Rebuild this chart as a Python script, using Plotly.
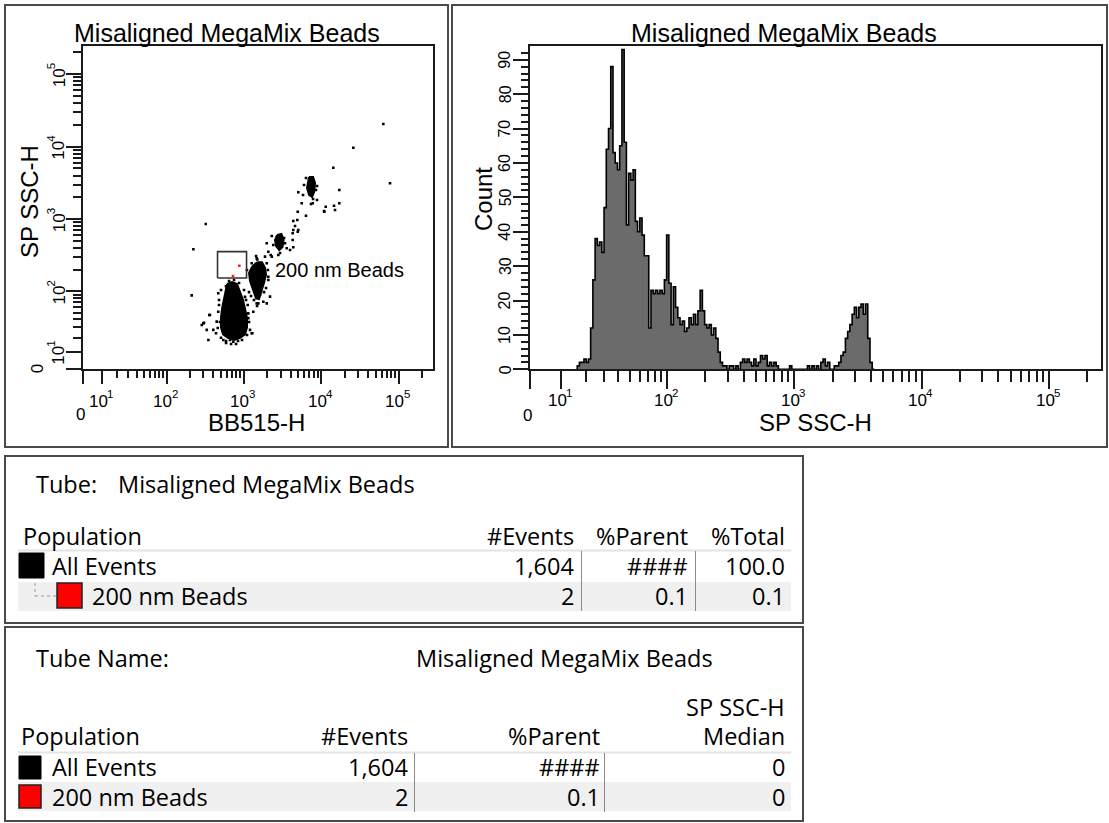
import numpy as np
import plotly.graph_objects as go

W, H = 1109, 823
COF = 17.0


def T(v):
    return np.arcsinh(np.asarray(v, dtype=float) / COF) / np.log(10)


def px(x):
    return x / W


def py(y):
    return 1 - y / H


# ---------------- data ----------------
tube_name = "Misaligned MegaMix Beads"
x_scatter_label = "BB515-H"
y_scatter_label = "SP SSC-H"
x_hist_label = "SP SSC-H"
y_hist_label = "Count"
gate_name = "200 nm Beads"

decade_values = [10, 100, 1000, 10000, 100000]
decade_base = "10"
decade_exponents = ["1", "2", "3", "4", "5"]
zero_label = "0"
minor_values = [k * 10 ** n for n in range(1, 5) for k in range(2, 10)] + [200000]
axis_max_value = 262144
count_major = [0, 10, 20, 30, 40, 50, 60, 70, 80, 90]
count_minor = list(range(2, 94, 2))

# histogram of SP SSC-H (256 bins over the display range); counts for bins 21..153
hist_n_bins = 256
hist_first_bin = 21
hist_counts = [1, 2, 2, 3, 2, 3, 12, 26, 38, 36, 37, 34, 47, 64, 70, 88, 63, 60, 58, 65,
               93, 66, 42, 57, 55, 58, 43, 40, 44, 39, 33, 33, 12, 23, 22, 23, 22, 23, 22, 26,
               39, 25, 13, 24, 18, 15, 13, 14, 11, 12, 15, 13, 16, 13, 17, 23, 17, 13, 12, 13,
               10, 12, 9, 5, 2, 1, 1, 0, 1, 1, 0, 1, 0, 2, 3, 2, 3, 2, 1, 3,
               1, 2, 4, 3, 4, 1, 2, 1, 2, 1, 0, 0, 0, 0, 0, 1, 0, 0, 0, 0,
               0, 0, 0, 1, 0, 1, 0, 1, 0, 2, 3, 1, 2, 0, 0, 1, 1, 2, 4, 5,
               9, 11, 13, 16, 18, 15, 18, 19, 16, 19, 9, 2, 0]

# dense bead populations (outline of the solid black cores)
pop_a_bb515 = [607, 704, 816, 892, 975, 1034, 1098, 1098, 1034, 892, 747, 625, 539, 506, 506, 523, 555, 589]
pop_a_ssc = [127, 135.5, 127, 98.5, 75.9, 57, 41.5, 30, 23, 20, 18.2, 20, 23, 30, 41.5, 57, 78, 105]
pop_b_bb515 = [1480, 1712, 1873, 1930, 1815, 1662, 1567, 1436, 1311, 1200, 1165, 1273]
pop_b_ssc = [255, 255, 213, 172, 131, 98.5, 78, 80, 105, 140, 180, 219]
pop_c_bb515 = [2690, 3050, 3250, 3150, 2860, 2600, 2521]
pop_c_ssc = [605, 624, 516, 412, 376, 427, 516]
pop_d_bb515 = [6920, 7800, 8272, 8040, 7570, 6920, 6521, 6720]
pop_d_ssc = [3820, 3820, 3160, 2371, 2027, 2162, 2695, 3364]

# sparse events
events_bb515 = [62820, 25770, 14230, 76640, 17000, 5030, 7340, 10800, 14530, 14970, 17000, 6320, 5570,
                4945, 4337, 4260, 4945, 4337, 3392, 3566, 2780, 2649, 2395, 2065, 1971, 2218, 1971,
                1489, 2065, 2174, 1782, 1535, 1323, 1284, 322, 223, 212, 286, 306, 332, 348, 358,
                403, 446, 467, 467, 437, 731, 663, 1088, 1141, 1066, 4885, 4565, 4337, 5030, 4260,
                3937, 1873, 2288, 1464, 1261, 2065, 1971, 1464, 365, 300, 543, 1261, 7720, 10900,
                11360, 5790, 5960, 8510, 8770, 1095, 1165, 1714, 1817, 1615, 1350, 478, 507, 588,
                1004, 1034, 1141, 1200, 840, 588, 507, 792,
                478, 491, 460, 1120, 1165, 1098, 644, 747, 866, 589, 946, 683,
                1436, 2040, 1930, 1236, 1480, 2288, 3300, 2926, 6320, 8770, 7800]
events_ssc = [20550, 9680, 5130, 3124, 2527, 2349, 1620, 1297, 1534, 1339, 1656, 1117, 1656,
              1268, 944, 638, 671, 410, 465, 397, 320, 562, 440, 356, 465, 320, 246,
              279, 144.5, 84.5, 71.8, 68, 51.5, 24, 858, 384, 88, 32.7, 35.4, 27.3, 18.2, 46.1,
              27.3, 36.7, 94.4, 51.5, 24, 16.9, 18.2, 32.7, 48.8, 75.9, 974, 806, 709, 709, 516,
              376, 304, 304, 288, 246, 160, 68, 68, 46.1, 34.6, 18.2, 24, 1656, 1268,
              1487, 2157, 2960, 2527, 1840, 199, 98, 199, 98, 89, 76, 76, 105, 118,
              105, 84, 41.5, 27.3, 17.4, 17.4, 20, 15.2,
              64.4, 36.2, 29.2, 64.4, 36.2, 22.4, 139.8, 144.5, 131, 15.9, 18.2, 15.2,
              310, 199, 111.9, 86.4, 62.4, 586, 550, 341, 3700, 2866, 1900]

gate_bb515 = [457, 1082]
gate_ssc = [154, 357]
gated_bb515 = [874, 725]
gated_ssc = [228, 164]
gate_label_pos = (2373, 199)

# statistics tables
t1_columns = ["#Events", "%Parent", "%Total"]
t1_populations = ["All Events", "200 nm Beads"]
t1_events = ["1,604", "2"]
t1_parent = ["####", "0.1"]
t1_total = ["100.0", "0.1"]

t2_columns = ["#Events", "%Parent", "Median"]
t2_stat_header = "SP SSC-H"
t2_populations = ["All Events", "200 nm Beads"]
t2_events = ["1,604", "2"]
t2_parent = ["####", "0.1"]
t2_median = ["0", "0"]
pop_colors = ["#000000", "#ff0000"]

# ---------------- figure ----------------
fig = go.Figure()
AXC = "#1a1a1a"
PLOT_FONT = "Liberation Sans, Arial, sans-serif"
TABLE_FONT = "Open Sans, Noto Sans, sans-serif"

for bx, by in [(pop_a_bb515, pop_a_ssc), (pop_b_bb515, pop_b_ssc),
               (pop_c_bb515, pop_c_ssc), (pop_d_bb515, pop_d_ssc)]:
    fig.add_trace(go.Scatter(x=T(bx + bx[:1]), y=T(by + by[:1]), mode="lines", fill="toself",
                             fillcolor="black", line=dict(color="black", width=2),
                             xaxis="x", yaxis="y", hoverinfo="skip"))

fig.add_trace(go.Scatter(x=T(events_bb515), y=T(events_ssc), mode="markers",
                         marker=dict(symbol="square", size=2.6, color="black", line=dict(width=0)),
                         xaxis="x", yaxis="y"))

gx = [gate_bb515[0], gate_bb515[1], gate_bb515[1], gate_bb515[0], gate_bb515[0]]
gy = [gate_ssc[0], gate_ssc[0], gate_ssc[1], gate_ssc[1], gate_ssc[0]]
fig.add_trace(go.Scatter(x=T(gx), y=T(gy), mode="lines", line=dict(color="#333333", width=1.6),
                         xaxis="x", yaxis="y"))
fig.add_trace(go.Scatter(x=T(gated_bb515), y=T(gated_ssc), mode="markers",
                         marker=dict(symbol="square", size=2.6, color="#ff2020", line=dict(width=0)),
                         xaxis="x", yaxis="y"))

# histogram
edges = np.linspace(0, float(T(axis_max_value)), hist_n_bins + 1)
n = len(hist_counts)
hx = list(edges[hist_first_bin:hist_first_bin + n + 1])
hy = [0] + list(hist_counts) + [0]
hx = [hx[0]] + hx
fig.add_trace(go.Scatter(x=hx, y=hy, mode="lines", line=dict(color="black", width=1.6, shape="hv"),
                         fill="tozeroy", fillcolor="#6b6b6b", xaxis="x2", yaxis="y2"))

minor_t = list(T(minor_values))
major_t = list(T([0] + decade_values))
ydom = [py(369.3), py(46)]

common = dict(showline=True, linewidth=2, linecolor=AXC, mirror=True, showgrid=False, zeroline=False,
              ticks="outside", tickwidth=2, tickcolor=AXC, showticklabels=False, tickmode="array")
fig.update_layout(
    width=W, height=H, margin=dict(l=0, r=0, t=0, b=0),
    paper_bgcolor="white", plot_bgcolor="white", showlegend=False,
    xaxis=dict(domain=[px(83.3), px(433.3)], range=[0, 4.513], tickvals=major_t, ticklen=13,
               minor=dict(tickmode="array", tickvals=minor_t, ticklen=7, tickwidth=2, tickcolor=AXC,
                          ticks="outside", showgrid=False), anchor="y", **common),
    yaxis=dict(domain=ydom, range=[0, 4.459], tickvals=major_t, ticklen=15,
               minor=dict(tickmode="array", tickvals=minor_t, ticklen=8, tickwidth=2, tickcolor=AXC,
                          ticks="outside", showgrid=False), anchor="x", **common),
    xaxis2=dict(domain=[px(530.3), px(1101)], range=[0, 4.478], tickvals=major_t, ticklen=18,
                minor=dict(tickmode="array", tickvals=minor_t, ticklen=11, tickwidth=2, tickcolor=AXC,
                           ticks="outside", showgrid=False), anchor="y2", **common),
    yaxis2=dict(domain=ydom, range=[0, 94], tickvals=count_major, ticklen=15,
                minor=dict(tickmode="array", tickvals=count_minor, ticklen=7, tickwidth=2, tickcolor=AXC,
                           ticks="outside", showgrid=False), anchor="x2", **common),
)

ann = []


def A(x, y, text, size, family=PLOT_FONT, xanchor="center", yanchor="middle", angle=0,
      xref="paper", yref="paper", color="#000000", xshift=0, yshift=0):
    ann.append(dict(x=x, y=y, xref=xref, yref=yref, text=text, showarrow=False, xanchor=xanchor,
                    yanchor=yanchor, textangle=angle, xshift=xshift, yshift=yshift,
                    font=dict(family=family, size=size, color=color)))


# titles
A(px(227), py(33), tube_name, 25)
A(px(784), py(33), tube_name, 25)
A(px(256), py(423), x_scatter_label, 24)
A(px(29), py(202), y_scatter_label, 24, angle=-90)
A(px(815), py(423), x_hist_label, 24)
A(px(483), py(199), y_hist_label, 24, angle=-90)

# tick labels
t0 = float(T(0))
A(t0, py(414), zero_label, 17, xref="x", xshift=-3)
A(t0, py(415), zero_label, 17, xref="x2", xshift=-3)
A(px(37), t0, zero_label, 17, yref="y", angle=-90)
for v, e in zip(decade_values, decade_exponents):
    tv = float(T(v))
    # scatter x
    A(tv, py(401), decade_base, 17, xref="x", xshift=-4)
    A(tv, py(394), e, 11.5, xref="x", xshift=8)
    # histogram x
    A(tv, py(400), decade_base, 17, xref="x2", xshift=-4)
    A(tv, py(393), e, 11.5, xref="x2", xshift=8)
    # scatter y (rotated)
    A(px(59), tv, decade_base, 17, yref="y", angle=-90, yshift=-4)
    A(px(51), tv, e, 11.5, yref="y", angle=-90, yshift=8)
for v in count_major:
    A(px(505), v, str(v), 16, yref="y2", angle=-90)

# gate label
A(float(T(gate_label_pos[0])), float(T(gate_label_pos[1])), gate_name, 20, xref="x", yref="y",
  xanchor="left")

shapes = []
BORDER = "#4a4a4a"


def R(x0, y0, x1, y1, line="#000", lw=1, fill=None, dash=None):
    d = dict(type="rect", xref="paper", yref="paper", x0=px(x0), x1=px(x1), y0=py(y0), y1=py(y1),
             line=dict(color=line, width=lw))
    if dash:
        d["line"]["dash"] = dash
    if fill:
        d["fillcolor"] = fill
    shapes.append(d)


def L(x0, y0, x1, y1, color="#000", lw=1, dash=None):
    d = dict(type="line", xref="paper", yref="paper", x0=px(x0), x1=px(x1), y0=py(y0), y1=py(y1),
             line=dict(color=color, width=lw))
    if dash:
        d["line"]["dash"] = dash
    shapes.append(d)


# panel borders
R(5, 5, 448, 447, line=BORDER, lw=2)
R(452, 5, 1107, 447, line=BORDER, lw=2)
R(5, 456, 803, 623, line=BORDER, lw=2)
R(5, 627, 803, 821, line=BORDER, lw=2)

TS = 23.5
# ---- table 1
A(px(34), py(484), "Tube:", TS, family=TABLE_FONT, xanchor="left")
A(px(116), py(484), tube_name, TS, family=TABLE_FONT, xanchor="left")
A(px(21), py(536), "Population", TS, family=TABLE_FONT, xanchor="left")
t1_right = [576, 690, 787]
for xr, c in zip(t1_right, t1_columns):
    A(px(xr), py(536), c, TS, family=TABLE_FONT, xanchor="right")
R(18, 582, 791, 611, line="#f0f0f0", lw=0, fill="#f0f0f0")
L(18, 550.5, 791, 550.5, color="#e4e4e4", lw=2)
for xs in [581.5, 695.5]:
    L(xs, 551, xs, 611, color="#8a8a8a", lw=1)
t1_rows_y = [566, 596]
R(19, 553, 44, 578, line="#000", lw=1, fill=pop_colors[0])
R(57, 583, 82, 608, line="#222", lw=1.5, fill=pop_colors[1])
L(35, 583, 35, 596, color="#999", lw=1, dash="dot")
L(35, 596, 57, 596, color="#999", lw=1, dash="dot")
name_x = [50, 90]
for i in range(2):
    A(px(name_x[i]), py(t1_rows_y[i]), t1_populations[i], TS, family=TABLE_FONT, xanchor="left")
    for xr, vals in zip(t1_right, [t1_events, t1_parent, t1_total]):
        A(px(xr), py(t1_rows_y[i]), vals[i], TS, family=TABLE_FONT, xanchor="right")

# ---- table 2
A(px(34), py(658), "Tube Name:", TS, family=TABLE_FONT, xanchor="left")
A(px(414), py(658), tube_name, TS, family=TABLE_FONT, xanchor="left")
t2_right = [410, 602, 787]
A(px(t2_right[2]), py(707), t2_stat_header, TS, family=TABLE_FONT, xanchor="right")
A(px(19), py(736), "Population", TS, family=TABLE_FONT, xanchor="left")
for xr, c in zip(t2_right, t2_columns):
    A(px(xr), py(736), c, TS, family=TABLE_FONT, xanchor="right")
R(18, 782, 791, 811, line="#f0f0f0", lw=0, fill="#f0f0f0")
L(18, 752.5, 791, 752.5, color="#e4e4e4", lw=2)
for xs in [414.5, 604.5]:
    L(xs, 753, xs, 812, color="#8a8a8a", lw=1)
t2_rows_y = [767, 797]
R(19, 756, 41, 779, line="#000", lw=1, fill=pop_colors[0])
R(19, 785, 41, 808, line="#222", lw=1.5, fill=pop_colors[1])
for i in range(2):
    A(px(50), py(t2_rows_y[i]), t2_populations[i], TS, family=TABLE_FONT, xanchor="left")
    for xr, vals in zip(t2_right, [t2_events, t2_parent, t2_median]):
        A(px(xr), py(t2_rows_y[i]), vals[i], TS, family=TABLE_FONT, xanchor="right")

fig.update_layout(annotations=ann, shapes=shapes)
fig.write_html("out.html", config={"displayModeBar": False},
               post_script="document.body.style.margin='0px';document.body.style.overflow='hidden';")
